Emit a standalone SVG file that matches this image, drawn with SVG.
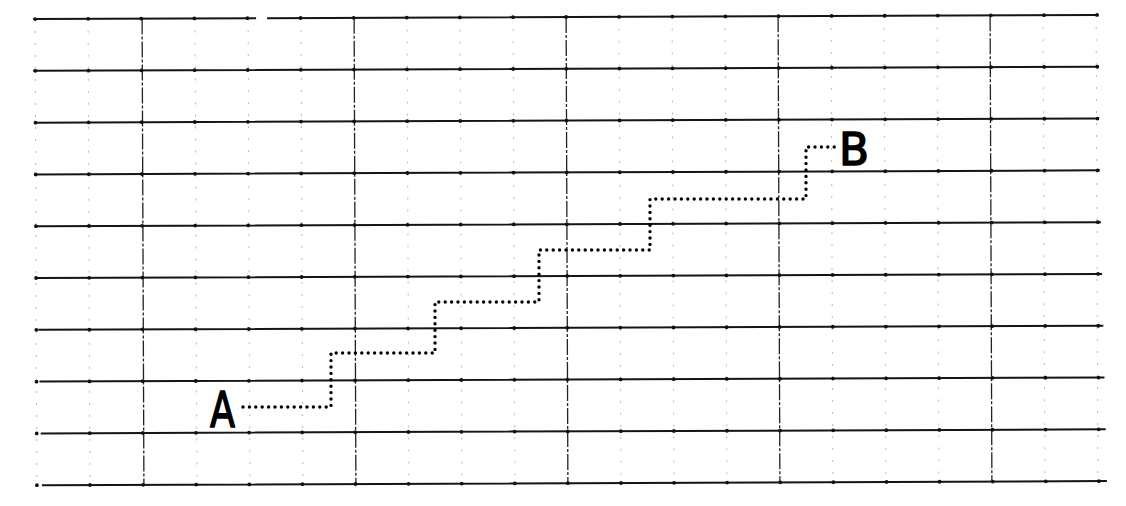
<svg xmlns="http://www.w3.org/2000/svg" width="1126" height="506" viewBox="0 0 1126 506">
<style>
.h{stroke:#151515;stroke-width:2;fill:none}
.tk{stroke:#111;stroke-width:3.8;stroke-linecap:round;stroke-dasharray:0 53.1;fill:none}
.maj{stroke:#222;stroke-width:1.3;stroke-dasharray:16 2 3 2;fill:none}
.min{stroke:#b8b8b8;stroke-width:1;stroke-dasharray:2 10;fill:none}
.dot{stroke:#000;stroke-width:3.4;stroke-linecap:round;stroke-dasharray:0 6.4;fill:none}
.lbl{font-family:"DejaVu Sans",sans-serif;font-weight:normal;fill:#000;stroke:#000;stroke-width:1.6;stroke-linejoin:round}
</style>
<rect width="1126" height="506" fill="#fff"/>
<g id="grid" transform="rotate(-0.22 563 250)">
<g id="minor-verticals">
<path class="min" d="M36 17V484M89 17V484M196 17V484M249 17V484M302 17V484M408 17V484M461 17V484M514 17V484M620 17V484M673 17V484M726 17V484M832 17V484M885 17V484M938 17V484M1044 17V484M1097 17V484"/>
</g>
<g id="major-verticals">
<path class="maj" d="M143 17V484M355 17V484M567 17V484M779 17V484M991 17V484"/>
</g>
<g id="horizontals">
<path class="h" d="M34 17H257M268 17H1097M34 68.8H1098M35 120.6H1099M36 172.4H1100M37 224.2H1101M37 276H1102M38 327.8H1103M39 379.6H1104M40 431.4H1105M41 483.2H1106"/>
<path class="tk" d="M36 17H1100M36 68.8H1100M36 120.6H1100M36 172.4H1100M36 224.2H1100M36 276H1100M36 327.8H1100M36 379.6H1100M36 431.4H1100M36 483.2H1100"/>
</g>
</g>
<g id="connectors">
<path class="dot" d="M243 407H331V353H435V302H539V250H650V199H806V147H835"/>
</g>
<g id="node-A">
<text class="lbl" x="210" y="427" font-size="50" textLength="25" lengthAdjust="spacingAndGlyphs">A</text>
</g>
<g id="node-B">
<text class="lbl" x="839" y="165" font-size="45" textLength="30" lengthAdjust="spacingAndGlyphs">B</text>
</g>
</svg>
